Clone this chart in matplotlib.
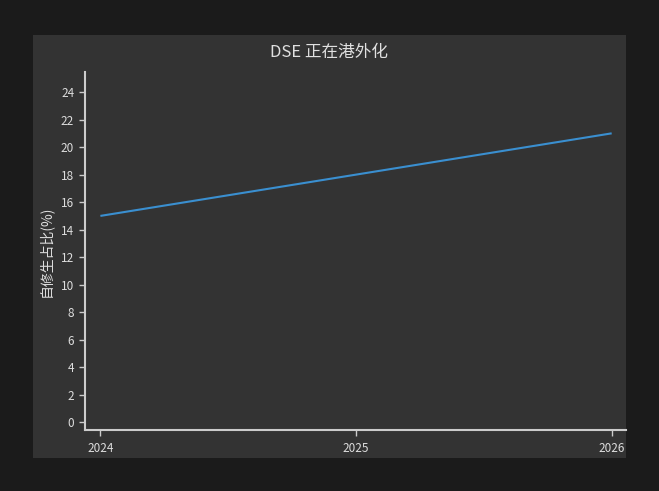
import matplotlib
matplotlib.use("Agg")
import matplotlib.pyplot as plt
from matplotlib.patches import Rectangle

plt.rcParams['font.family'] = ['Noto Sans CJK SC', 'DejaVu Sans']

years = [2024, 2025, 2026]
share = [15, 18, 21]
y_ticks = list(range(0, 25, 2))
title = 'DSE 正在港外化'
y_label = '自修生占比(%)'

W, H = 659, 491
fig = plt.figure(figsize=(W / 100, H / 100), dpi=100)
fig.patch.set_facecolor('#1b1b1b')

# inner panel
fig.patches.append(Rectangle((33 / W, 1 - 457.5 / H), (626 - 33) / W, (457.5 - 35) / H,
                             transform=fig.transFigure, facecolor='#333333',
                             edgecolor='none', zorder=0))

ax = fig.add_axes([85.3 / W, 1 - 430 / H, (626 - 85.3) / W, (430 - 71.7) / H])
ax.set_zorder(2)
ax.set_facecolor('none')
ax.plot(years, share, color='#3a8fd0', lw=1.5, solid_capstyle='butt')

ax.set_xlim(2023.941, 2026.056)
ax.set_ylim(-0.56, 25.48)
ax.set_xticks(years)
ax.set_xticklabels([str(y) for y in years])
ax.set_yticks(y_ticks)

for s in ['top', 'right']:
    ax.spines[s].set_visible(False)
for s in ['left', 'bottom']:
    ax.spines[s].set_color('#cccccc')
    ax.spines[s].set_linewidth(1.5)
ax.tick_params(colors='#cccccc', labelcolor='#dddddd', labelsize=8.5,
               length=4, width=1, pad=4)
ax.tick_params(axis='x', pad=5)
for lbl in ax.get_xticklabels() + ax.get_yticklabels():
    lbl.set_fontweight('medium')

ax.set_ylabel(y_label, color='#dddddd', fontsize=10, fontweight='medium', labelpad=6)
fig.text(329.5 / W, 1 - 52 / H, title, color='#e0e0e0', fontsize=12,
         fontweight='medium', ha='center', va='center', zorder=3)

fig.savefig('out.png', dpi=100, facecolor=fig.get_facecolor())
